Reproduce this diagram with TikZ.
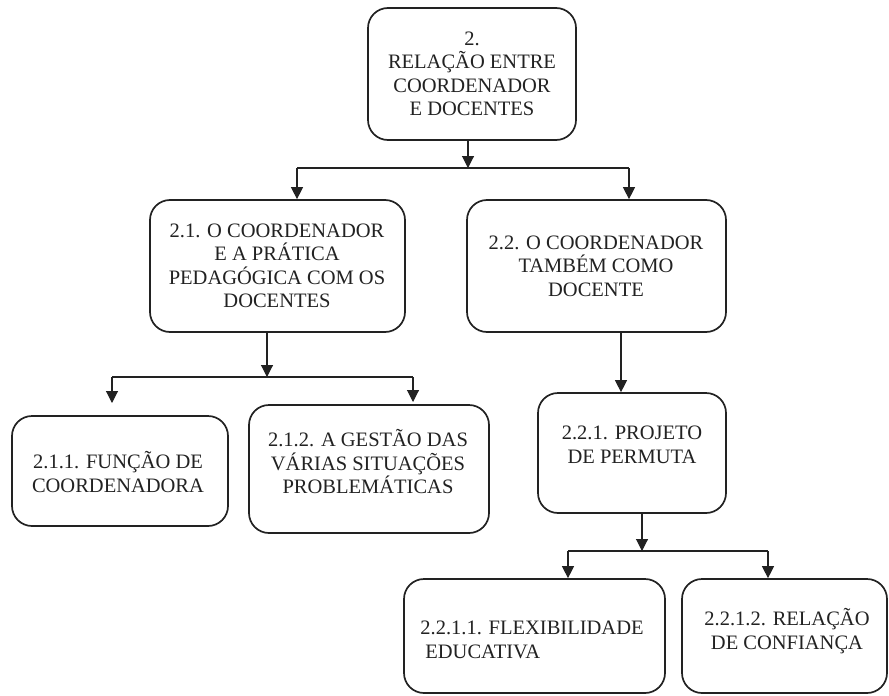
\documentclass[tikz,border=0pt]{standalone}
\usepackage{fontspec}
\setmainfont{Liberation Serif}
\usetikzlibrary{arrows.meta}
\definecolor{ink}{HTML}{222222}
\tikzset{
  box/.style={draw=ink, line width=1.7pt, rounded corners=20pt, inner sep=0pt},
  txt/.style={text=ink, align=center, inner sep=0pt, font=\fontsize{20.5}{23.5}\selectfont},
  conn/.style={draw=ink, line width=1.1pt},
  arr/.style={conn, -{Triangle[width=12pt,length=12pt]}}
}
\begin{document}
\begin{tikzpicture}[x=1pt,y=-1pt]
\useasboundingbox[fill=white] (0,0) rectangle (889,696);
% boxes
\node[box, minimum width=208pt, minimum height=132pt] (b2) at (472,74) {};
\node[box, minimum width=255pt, minimum height=132pt] (b21) at (277.5,266) {};
\node[box, minimum width=259pt, minimum height=132pt] (b22) at (596.5,266) {};
\node[box, minimum width=216pt, minimum height=110pt] (b211) at (120,471) {};
\node[box, minimum width=240pt, minimum height=128pt] (b212) at (369,469) {};
\node[box, minimum width=188pt, minimum height=120pt] (b221) at (632,453) {};
\node[box, minimum width=261pt, minimum height=114pt] (b2211) at (534.5,636) {};
\node[box, minimum width=205pt, minimum height=114pt] (b2212) at (784.5,636) {};
% texts
\node[txt] (t2) at (472,74) {2.\\RELAÇÃO ENTRE\\COORDENADOR\\E DOCENTES};
\node[txt] (t21) at (277,266) {2.1. O COORDENADOR\\E A PRÁTICA\\PEDAGÓGICA COM OS\\DOCENTES};
\node[txt] (t22) at (596,266) {2.2. O COORDENADOR\\TAMBÉM COMO\\DOCENTE};
\node[txt] (t211) at (118,472) {2.1.1. FUNÇÃO DE\\COORDENADORA};
\node[txt] (t212) at (368,462) {2.1.2. A GESTÃO DAS\\VÁRIAS SITUAÇÕES\\PROBLEMÁTICAS};
\node[txt] (t221) at (632,445) {2.2.1. PROJETO\\DE PERMUTA};
\node[txt, align=left] (t2211) at (532,640) {2.2.1.1. FLEXIBILIDADE\\\hspace*{5pt}EDUCATIVA};
\node[txt] (t2212) at (787,631) {2.2.1.2. RELAÇÃO\\DE CONFIANÇA};
% junction coordinates
\coordinate (j1) at (468,168);
\coordinate (j1l) at (297,168);
\coordinate (j1r) at (629,168);
\coordinate (j2) at (267,377);
\coordinate (j2l) at (112,377);
\coordinate (j2r) at (413,377);
\coordinate (e211) at (112,403);
\coordinate (e212) at (413,402);
\coordinate (j3) at (642,551);
\coordinate (j3l) at (568,551);
\coordinate (j3r) at (768,551);
% connectors
\draw[arr] (b2.south -| j1) -- (j1);
\draw[conn] (j1l) -- (j1r);
\draw[arr] (j1l) -- (j1l |- b21.north);
\draw[arr] (j1r) -- (j1r |- b22.north);
\draw[arr] (b21.south -| j2) -- (j2);
\draw[conn] (j2l) -- (j2r);
\draw[arr] (j2l) -- (e211);
\draw[arr] (j2r) -- (e212);
\draw[arr] (b22.south -| 621,0) -- (b221.north -| 621,0);
\draw[arr] (b221.south -| j3) -- (j3);
\draw[conn] (j3l) -- (j3r);
\draw[arr] (j3l) -- (j3l |- b2211.north);
\draw[arr] (j3r) -- (j3r |- b2212.north);
\end{tikzpicture}
\end{document}
